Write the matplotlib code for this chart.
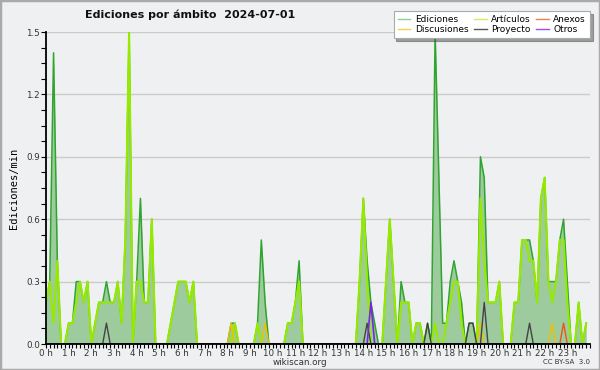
import matplotlib
matplotlib.use("Agg")
import matplotlib.pyplot as plt
from matplotlib.patches import Rectangle
from matplotlib.ticker import MultipleLocator
import numpy as np

# ediciones por 10 minutos, una fila por hora (0 h .. 23 h)
ediciones = [
    0.2, 0.3, 1.4, 0.4, 0.0, 0.0,
    0.1, 0.1, 0.3, 0.3, 0.2, 0.3,
    0.0, 0.1, 0.2, 0.2, 0.3, 0.2,
    0.2, 0.3, 0.1, 0.5, 1.5, 0.0,
    0.3, 0.7, 0.2, 0.2, 0.6, 0.0,
    0.0, 0.0, 0.0, 0.1, 0.2, 0.3,
    0.3, 0.3, 0.2, 0.3, 0.0, 0.0,
    0.0, 0.0, 0.0, 0.0, 0.0, 0.0,
    0.0, 0.1, 0.1, 0.0, 0.0, 0.0,
    0.0, 0.0, 0.1, 0.5, 0.2, 0.0,
    0.0, 0.0, 0.0, 0.0, 0.1, 0.1,
    0.2, 0.4, 0.0, 0.0, 0.0, 0.0,
    0.0, 0.0, 0.0, 0.0, 0.0, 0.0,
    0.0, 0.0, 0.0, 0.0, 0.0, 0.3,
    0.7, 0.4, 0.2, 0.1, 0.0, 0.0,
    0.3, 0.6, 0.3, 0.0, 0.3, 0.2,
    0.2, 0.0, 0.1, 0.1, 0.0, 0.1,
    0.0, 1.5, 0.8, 0.1, 0.1, 0.3,
    0.4, 0.3, 0.2, 0.0, 0.1, 0.1,
    0.0, 0.9, 0.8, 0.2, 0.2, 0.2,
    0.3, 0.0, 0.0, 0.0, 0.2, 0.2,
    0.5, 0.5, 0.5, 0.4, 0.2, 0.7,
    0.8, 0.3, 0.3, 0.3, 0.5, 0.6,
    0.3, 0.0, 0.0, 0.2, 0.0, 0.1,
]

articulos = [
    0.2, 0.3, 0.1, 0.4, 0.0, 0.0,
    0.1, 0.1, 0.2, 0.3, 0.2, 0.3,
    0.0, 0.1, 0.2, 0.2, 0.2, 0.2,
    0.2, 0.3, 0.1, 0.5, 1.5, 0.0,
    0.3, 0.3, 0.2, 0.2, 0.6, 0.0,
    0.0, 0.0, 0.0, 0.1, 0.2, 0.3,
    0.3, 0.3, 0.2, 0.3, 0.0, 0.0,
    0.0, 0.0, 0.0, 0.0, 0.0, 0.0,
    0.0, 0.0, 0.1, 0.0, 0.0, 0.0,
    0.0, 0.0, 0.1, 0.0, 0.0, 0.0,
    0.0, 0.0, 0.0, 0.0, 0.1, 0.1,
    0.2, 0.3, 0.0, 0.0, 0.0, 0.0,
    0.0, 0.0, 0.0, 0.0, 0.0, 0.0,
    0.0, 0.0, 0.0, 0.0, 0.0, 0.3,
    0.7, 0.3, 0.0, 0.0, 0.0, 0.0,
    0.3, 0.6, 0.3, 0.0, 0.2, 0.2,
    0.2, 0.0, 0.1, 0.1, 0.0, 0.0,
    0.0, 0.1, 0.0, 0.0, 0.1, 0.2,
    0.3, 0.3, 0.1, 0.0, 0.0, 0.0,
    0.0, 0.7, 0.4, 0.2, 0.2, 0.2,
    0.3, 0.0, 0.0, 0.0, 0.2, 0.2,
    0.5, 0.5, 0.4, 0.4, 0.2, 0.7,
    0.8, 0.3, 0.2, 0.3, 0.5, 0.5,
    0.2, 0.0, 0.0, 0.2, 0.0, 0.1,
]

# series pequeñas: posicion (bloque de 10 min) y valor
discusiones_idx = [49, 58, 115, 134]
discusiones_val = [0.1, 0.1, 0.1, 0.1]
proyecto_idx = [16, 85, 101, 112, 113, 116, 128]
proyecto_val = [0.1, 0.1, 0.1, 0.1, 0.1, 0.2, 0.1]
anexos_idx = [137]
anexos_val = [0.1]
otros_idx = [86]
otros_val = [0.2]

horas = list(range(24))
bg = '#eff0f1'


def serie(idx, val):
    s = np.zeros(len(ediciones))
    s[idx] = val
    return s


x = np.arange(len(ediciones)) / 6.0

fig = plt.figure(figsize=(6, 3.7), dpi=100, facecolor=bg)
ax = fig.add_axes([46 / 600, 26 / 370, 544 / 600, 312 / 370])
ax.set_facecolor(bg)

ax.fill_between(x, ediciones, color='#9dcb9d', lw=0, zorder=2)
ax.plot(x, ediciones, color='#2fa52f', lw=1.1, zorder=3)
ax.plot(x, articulos, color='#95ea00', lw=1.5, zorder=4)
ax.plot(x, serie(discusiones_idx, discusiones_val), color='#f0c000', lw=1.0, zorder=5)
ax.plot(x, serie(proyecto_idx, proyecto_val), color='#444444', lw=1.0, zorder=5)
ax.plot(x, serie(anexos_idx, anexos_val), color='#ee5511', lw=1.0, zorder=5)
ax.plot(x, serie(otros_idx, otros_val), color='#7a22ee', lw=1.2, zorder=6)

ax.set_xlim(0, 24)
ax.set_ylim(0, 1.5)
ax.set_xticks(horas)
ax.set_xticklabels([f'{h} h' for h in horas])
ax.xaxis.set_minor_locator(MultipleLocator(1 / 6))
ax.yaxis.set_major_locator(MultipleLocator(0.3))
ax.yaxis.set_minor_locator(MultipleLocator(0.075))
ax.yaxis.set_major_formatter(matplotlib.ticker.FormatStrFormatter('%.1f'))
ax.tick_params(axis='both', which='both', direction='out', labelsize=6.3,
               colors='black', labelcolor='#333333', pad=0.8)
ax.tick_params(axis='x', which='both', length=3, width=0.8)
ax.tick_params(axis='y', which='both', length=3.5, width=0.8)

ax.grid(axis='y', color='#cccccc', lw=1, zorder=1)
ax.set_axisbelow(True)
for s in ['top', 'right']:
    ax.spines[s].set_visible(False)
for s in ['left', 'bottom']:
    ax.spines[s].set_zorder(10)
    ax.spines[s].set_linewidth(1.3)

ax.set_ylabel('Ediciones/min', fontsize=7.5, family='DejaVu Sans Mono', labelpad=5)

fig.text(85 / 600, 1 - 15 / 370, 'Ediciones por ámbito  2024-07-01',
         fontsize=8, fontweight='bold', ha='left', va='center', color='#111111')
fig.text(300 / 600, 1 - 362.5 / 370, 'wikiscan.org', fontsize=6.3, ha='center',
         va='center', color='#333333')
fig.text(590 / 600, 1 - 362.5 / 370, 'CC BY-SA  3.0', fontsize=5, ha='right',
         va='center', color='#333333')

handles = [
    plt.Line2D([], [], color='#8fd08f', lw=1),
    plt.Line2D([], [], color='#f5d050', lw=1),
    plt.Line2D([], [], color='#c8f060', lw=1),
    plt.Line2D([], [], color='#555555', lw=1),
    plt.Line2D([], [], color='#f08050', lw=1),
    plt.Line2D([], [], color='#a050f0', lw=1),
]
labels = ['Ediciones', 'Discusiones', 'Artículos', 'Proyecto', 'Anexos', 'Otros']
leg = fig.legend(handles, labels, ncol=3, loc='upper right',
                 bbox_to_anchor=(590 / 600, 1 - 11 / 370), fontsize=6.5,
                 frameon=True, fancybox=False, shadow=True, borderpad=0.45,
                 labelspacing=0.15, handlelength=1.4, handletextpad=0.5,
                 columnspacing=0.6, borderaxespad=0)
leg.get_frame().set_edgecolor('#aaaaaa')
leg.get_frame().set_linewidth(0.8)

fig.patches.append(Rectangle((0, 0), 1, 1, transform=fig.transFigure,
                             fill=False, edgecolor='#aaaaaa', lw=2.5))

fig.savefig('out.png', dpi=100, facecolor=bg)
